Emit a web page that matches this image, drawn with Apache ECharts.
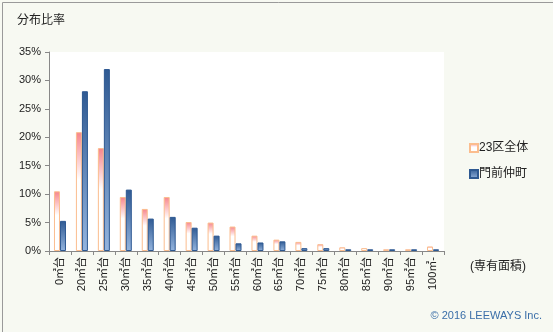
<!DOCTYPE html>
<html>
<head>
<meta charset="utf-8">
<script src="https://cdn.jsdelivr.net/npm/echarts@6/dist/echarts.min.js"></script>
<style>
html,body{margin:0;padding:0;background:#f7f9f2;}
#c{width:553px;height:332px;box-sizing:border-box;}
</style>
</head>
<body>
<div id="c"></div>
<script>
const categories = ['0㎡台','20㎡台','25㎡台','30㎡台','35㎡台','40㎡台','45㎡台','50㎡台','55㎡台','60㎡台','65㎡台','70㎡台','75㎡台','80㎡台','85㎡台','90㎡台','95㎡台','100㎡-'];
const seriesNames = ['23区全体','門前仲町'];
const ward23 = [10.5, 20.9, 18.1, 9.5, 7.4, 9.5, 5.1, 5.0, 4.3, 2.7, 2.0, 1.6, 1.2, 0.65, 0.5, 0.3, 0.3, 0.8];
const monzen = [5.3, 28.1, 32.0, 10.8, 5.7, 6.0, 4.1, 2.7, 1.35, 1.5, 1.7, 0.5, 0.5, 0.3, 0.3, 0.3, 0.3, 0.3];
const yTicks = {min: 0, max: 35, interval: 5};

const FONT = '"Liberation Sans", "Noto Sans CJK JP", sans-serif';
const chart = echarts.init(document.getElementById('c'), null, {renderer: 'canvas'});
chart.setOption({
  backgroundColor: '#f7f9f2',
  animation: false,
  textStyle: {fontFamily: FONT},
  grid: {left: 49, right: 109, top: 52, bottom: 81, show: true, backgroundColor: '#ffffff', borderWidth: 0},
  title: {text: '分布比率', left: 12, top: 10, textStyle: {fontSize: 12, fontWeight: 'normal', color: '#222', fontFamily: FONT}},
  legend: {
    orient: 'vertical', left: 464, top: 137, itemWidth: 8, itemHeight: 8, itemGap: 14, icon: 'rect',
    textStyle: {fontSize: 12, color: '#222', fontFamily: FONT, padding: [0, 0, 0, -4]},
    data: seriesNames
  },
  graphic: [
    {type: 'rect', left: 0, top: 0, shape: {width: 552, height: 331}, style: {fill: 'none', stroke: '#9a9a9a', lineWidth: 1}, silent: true},
    {type: 'text', left: 470, top: 261, style: {text: '(専有面積)', fontSize: 12, fill: '#222', fontFamily: FONT}},
    {type: 'text', right: 11, top: 310, style: {text: '© 2016 LEEWAYS Inc.', fontSize: 11, fill: '#3a6ea8', fontFamily: FONT}}
  ],
  xAxis: {
    type: 'category', data: categories,
    axisLine: {lineStyle: {color: '#888', width: 1}},
    axisTick: {show: true, length: 4, lineStyle: {color: '#888'}},
    axisLabel: {rotate: 90, fontSize: 11, color: '#222', margin: 6, interval: 0, fontFamily: FONT}
  },
  yAxis: {
    type: 'value', min: yTicks.min, max: yTicks.max, interval: yTicks.interval,
    axisLine: {show: true, lineStyle: {color: '#888', width: 1}},
    axisTick: {show: true, length: 4, lineStyle: {color: '#888'}},
    splitLine: {show: false},
    axisLabel: {formatter: '{value}%', fontSize: 11, color: '#222', margin: 8, fontFamily: FONT}
  },
  series: [
    {
      name: seriesNames[0], type: 'bar', data: ward23, barWidth: 6, barGap: '0%',
      itemStyle: {
        color: new echarts.graphic.LinearGradient(0, 0, 0, 1, [
          {offset: 0, color: '#f7848a'}, {offset: 0.4, color: '#ffffff'}, {offset: 1, color: '#ffffff'}
        ]),
        borderColor: '#fbbd8e', borderWidth: 1
      }
    },
    {
      name: seriesNames[1], type: 'bar', data: monzen, barWidth: 6,
      itemStyle: {
        color: new echarts.graphic.LinearGradient(0, 0, 0, 1, [
          {offset: 0, color: '#2f5a93'}, {offset: 1, color: '#94b4de'}
        ]),
        borderColor: '#2d5891', borderWidth: 1
      }
    }
  ]
});
</script>
</body>
</html>
